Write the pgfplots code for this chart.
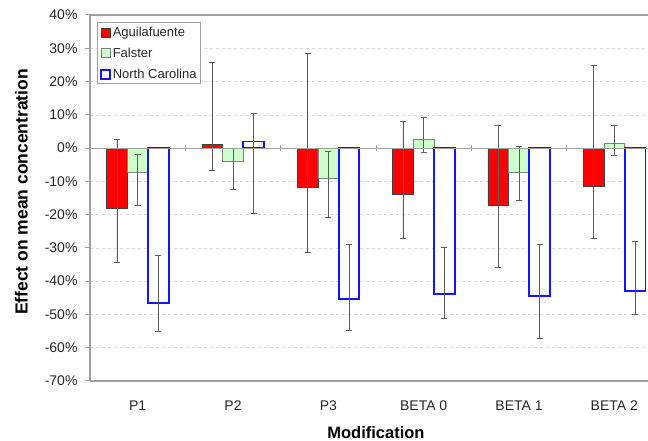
\documentclass[border=0pt]{standalone}
\usepackage{pgfplots}
\pgfplotsset{compat=1.18}
\usepackage{fontspec}
\setmainfont{Liberation Sans}
\definecolor{agui}{RGB}{255,0,0}
\definecolor{fals}{RGB}{204,255,204}
\definecolor{ncar}{RGB}{20,20,255}
\definecolor{axgray}{RGB}{160,160,160}
\definecolor{gridgray}{RGB}{215,215,215}
\definecolor{errgray}{RGB}{90,90,90}
\begin{document}
\begin{tikzpicture}[x=1pt,y=1pt]
\path[use as bounding box] (0,0) rectangle (648,441);
\begin{axis}[
  at={(90pt,60pt)}, anchor=south west,
  scale only axis, width=558pt, height=366pt,
  xmin=-0.5, xmax=5.353,
  ymin=-70, ymax=40,
  ybar=0pt, bar width=20.7pt,
  axis x line*=box, axis y line*=left,
  axis line style={axgray, line width=1.2pt},
  xtick={0,1,2,3,4,5},
  xticklabels={P1,P2,P3,BETA 0,BETA 1,BETA 2},
  x tick style={draw=none},
  ytick={-70,-60,...,40},
  y tick style={axgray, line width=1pt},
  tick align=outside, major tick length=5pt,
  yticklabel={\pgfmathprintnumber{\tick}\%},
  /pgf/number format/assume math mode=true,
  ymajorgrids, major grid style={gridgray, dashed, line width=0.6pt},
  yticklabel style={font=\fontsize{14}{16}\selectfont, xshift=-4pt, text=black!85},
  xticklabel style={font=\fontsize{14}{16}\selectfont, yshift=-11pt, text=black!85},
  ylabel={Effect on mean concentration},
  ylabel style={font=\bfseries\fontsize{17.5}{19}\selectfont, at={(axis description cs:-0.1228,0.5164)}, anchor=center},
  xlabel={Modification},
  xlabel style={font=\bfseries\fontsize{16.5}{18}\selectfont, at={(axis description cs:0.5125,-0.142)}, anchor=center},
  legend style={at={(0.0132,0.980)}, anchor=north west, draw=axgray, line width=0.8pt,
    font=\fontsize{13}{15}\selectfont, row sep=6pt, inner sep=2.2pt, text=black!85},
  legend cell align=left,
  legend image code/.code={\draw[#1] (0pt,-4.5pt) rectangle (9pt,4.5pt);},
  error bars/y dir=both, error bars/y explicit,
  error bars/error bar style={errgray, line width=0.8pt},
  error bars/error mark options={rotate=90, errgray, mark size=3pt, line width=0.8pt},
]
\addplot[fill=agui, draw=black!75, line width=0.5pt] coordinates {
 (0,-18.0) += (0,20.6) -= (0,16.4)
 (1,1.2) += (0,24.5) -= (0,8.0)
 (2,-11.9) += (0,40.4) -= (0,19.6)
 (3,-13.9) += (0,21.8) -= (0,13.3)
 (4,-17.3) += (0,24.1) -= (0,18.6)
 (5,-11.4) += (0,36.2) -= (0,15.6)
};
\addlegendentry{Aguilafuente}
\addplot[fill=fals, draw=gray, line width=0.6pt] coordinates {
 (0,-7.4) += (0,5.6) -= (0,9.7)
 (1,-3.9) += (0,3.7) -= (0,8.6)
 (2,-9.1) += (0,8.0) -= (0,11.6)
 (3,2.6) += (0,6.7) -= (0,3.9)
 (4,-7.3) += (0,7.7) -= (0,8.5)
 (5,1.4) += (0,5.3) -= (0,3.6)
};
\addlegendentry{Falster}
\addplot[fill=white, draw=ncar, line width=1.8pt] coordinates {
 (0,-46.5) += (0,14.1) -= (0,8.7)
 (1,2.0) += (0,8.4) -= (0,21.6)
 (2,-45.4) += (0,16.4) -= (0,9.4)
 (3,-43.8) += (0,13.9) -= (0,7.3)
 (4,-44.5) += (0,15.6) -= (0,12.6)
 (5,-42.9) += (0,15.0) -= (0,7.2)
};
\addlegendentry{North Carolina}
\addplot[axgray, line width=1pt, forget plot, sharp plot, mark=none] coordinates {(-0.5,0) (5.353,0)};
\addplot[axgray, line width=1pt, forget plot, only marks, mark=|, mark size=3pt, mark options={axgray, line width=1pt}] coordinates {(0.5,0) (1.5,0) (2.5,0) (3.5,0) (4.5,0)};
\end{axis}
\end{tikzpicture}
\end{document}
